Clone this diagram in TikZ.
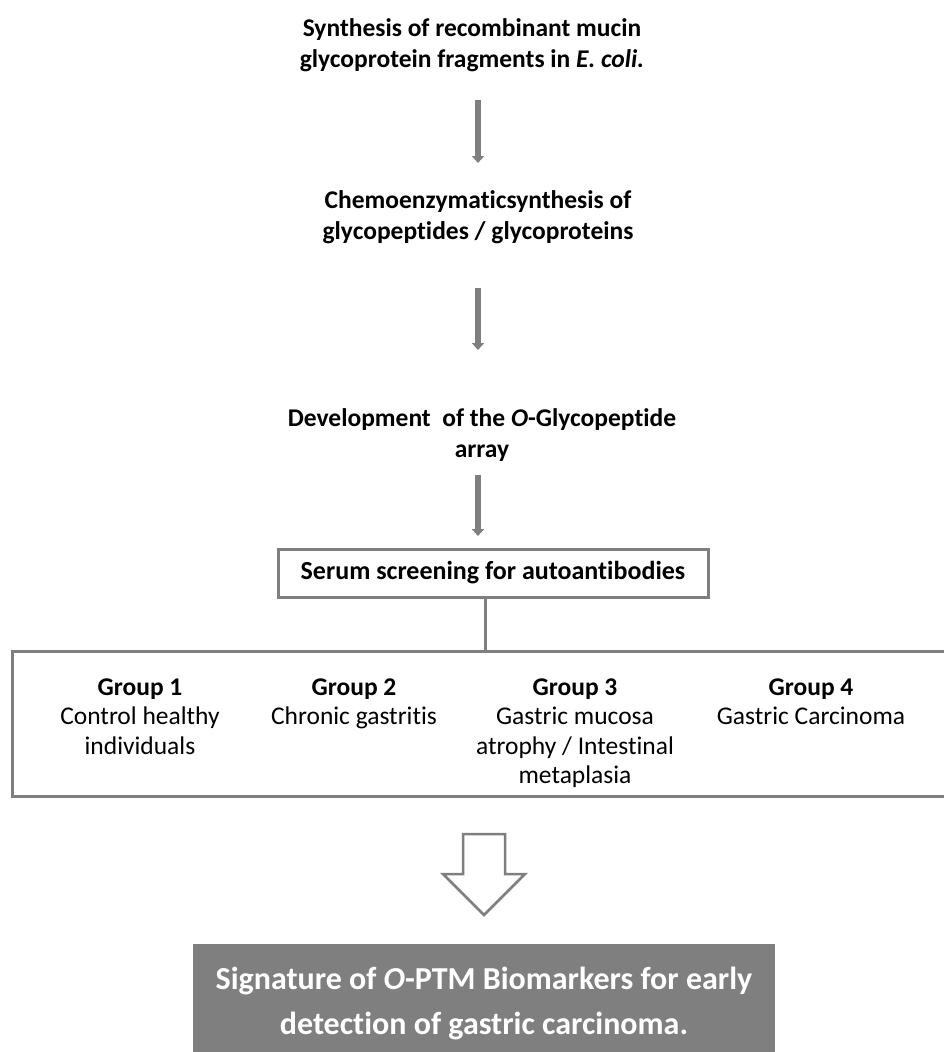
\documentclass[tikz,border=0pt]{standalone}
\usepackage{fontspec}
\setmainfont{Carlito}[Ligatures=NoCommon]
\usetikzlibrary{arrows.meta,calc}
\definecolor{lgray}{HTML}{7F7F7F}
\begin{document}
\begin{tikzpicture}[x=1pt,y=-1pt,
  steptext/.style={font=\bfseries\fontsize{25.5}{31}\selectfont,align=center,inner sep=0pt,text=black},
  thinarrow/.style={draw=lgray,line width=6pt,-{Triangle[length=7pt,width=12pt]}},
  boxline/.style={draw=lgray,line width=3pt},
  grouptitle/.style={font=\bfseries\fontsize{25.5}{30}\selectfont,align=center,inner sep=0pt},
  groupdesc/.style={font=\fontsize{25.5}{29.5}\selectfont,align=center,inner sep=0pt,anchor=north},
  banner/.style={fill=lgray,draw=none,text=white,font=\bfseries\fontsize{32}{45}\selectfont,align=center,inner sep=0pt}
]
\useasboundingbox (0,0) rectangle (944,1052);
\node[steptext] (t1) at (472,45) {Synthesis of recombinant mucin\\glycoprotein fragments in \textit{E. coli.}};
\node[steptext] (t2) at (478,217) {Chemoenzymaticsynthesis of\\glycopeptides / glycoproteins};
\node[steptext] (t3) at (482,435) {Development\ \ of the \textit{O}-Glycopeptide\\array};
\coordinate (a1s) at (478,100);
\coordinate (a1e) at (478,163);
\coordinate (a2s) at (478,288);
\coordinate (a2e) at (478,350);
\coordinate (a3s) at (478,475);
\coordinate (a3e) at (478,536);
\draw[thinarrow] (a1s) -- (a1e);
\draw[thinarrow] (a2s) -- (a2e);
\draw[thinarrow] (a3s) -- (a3e);
\node[boxline,minimum width=430pt,minimum height=48pt,inner sep=0pt,font=\bfseries\fontsize{26}{30}\selectfont] (serum) at (493,573) {Serum screening for autoantibodies};
\node[boxline,minimum width=960pt,minimum height=145pt,inner sep=0pt,anchor=north west] (groups) at (11,650) {};
\coordinate (vtop) at (485,597);
\draw[boxline] (vtop) -- (vtop |- groups.north);
\node[grouptitle] (g1) at (140,689) {Group 1};
\node[groupdesc] (d1) at (140,707) {Control healthy\\individuals};
\node[grouptitle] (g2) at (354,689) {Group 2};
\node[groupdesc] (d2) at (354,707) {Chronic gastritis};
\node[grouptitle] (g3) at (575,689) {Group 3};
\node[groupdesc] (d3) at (575,707) {Gastric mucosa\\atrophy / Intestinal\\metaplasia};
\node[grouptitle] (g4) at (811,689) {Group 4};
\node[groupdesc] (d4) at (811,707) {Gastric Carcinoma};
\node[banner,minimum width=582pt,minimum height=118pt] (sig) at (484,1003) {Signature of \textit{O}-PTM Biomarkers for early\\detection of gastric carcinoma.};
\draw[draw=lgray,line width=2.5pt,fill=white,line join=miter]
  (463,834) -- (505,834) -- (505,874) -- (525,874) -- (484,915) -- (443,874) -- (463,874) -- cycle;
\end{tikzpicture}
\end{document}
